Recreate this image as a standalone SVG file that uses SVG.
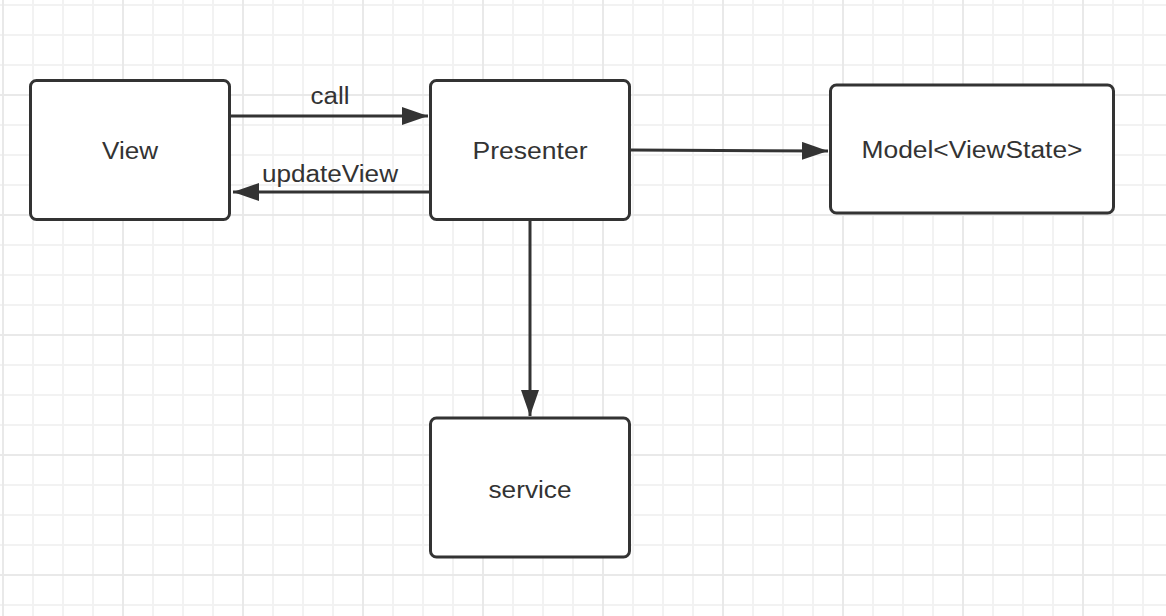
<svg xmlns="http://www.w3.org/2000/svg" width="1166" height="616" viewBox="0 0 1166 616">
  <style>
    .node rect { fill: #ffffff; stroke: #333333; stroke-width: 3; }
    .node text, .label { font-family: "Liberation Sans", Arial, sans-serif; font-size: 23px; fill: #333333; text-anchor: middle; }
    .edge { stroke: #333333; stroke-width: 3; fill: none; }
  </style>
  <defs>
    <pattern id="minor" x="3" y="5" width="30" height="30" patternUnits="userSpaceOnUse">
      <path d="M0 0V30M30 0V30M0 0H30M0 30H30" stroke="#f2f2f2" stroke-width="2" fill="none"/>
    </pattern>
    <pattern id="major" x="3" y="-25" width="120" height="120" patternUnits="userSpaceOnUse">
      <path d="M0 0V120M120 0V120M0 0H120M0 120H120" stroke="#e9e9e9" stroke-width="2" fill="none"/>
    </pattern>
    <marker id="arrow" viewBox="0 0 26 18" refX="26" refY="9" markerWidth="26" markerHeight="18" markerUnits="userSpaceOnUse" orient="auto">
      <path d="M0 0L26 9L0 18Z" fill="#333333"/>
    </marker>
  </defs>
  <rect width="1166" height="616" fill="#ffffff"/>
  <rect width="1166" height="616" fill="url(#minor)"/>
  <rect width="1166" height="616" fill="url(#major)"/>

  <g id="connectors">
    <path class="edge" d="M230 116H428" marker-end="url(#arrow)"/>
    <path class="edge" d="M430 192H233" marker-end="url(#arrow)"/>
    <path class="edge" d="M630 150L828 151" marker-end="url(#arrow)"/>
    <path class="edge" d="M530 220V416" marker-end="url(#arrow)"/>
    <text class="label" x="330" y="104" textLength="39" lengthAdjust="spacingAndGlyphs">call</text>
    <text class="label" x="330" y="182" textLength="136" lengthAdjust="spacingAndGlyphs">updateView</text>
  </g>

  <g id="view" class="node">
    <rect x="30.5" y="80.5" width="199" height="139" rx="6"/>
    <text x="130" y="159" textLength="56" lengthAdjust="spacingAndGlyphs">View</text>
  </g>
  <g id="presenter" class="node">
    <rect x="430.5" y="80.5" width="199" height="139" rx="6"/>
    <text x="530" y="159" textLength="115" lengthAdjust="spacingAndGlyphs">Presenter</text>
  </g>
  <g id="model" class="node">
    <rect x="830.5" y="85" width="283" height="128" rx="6"/>
    <text x="972" y="158" textLength="221" lengthAdjust="spacingAndGlyphs">Model&lt;ViewState&gt;</text>
  </g>
  <g id="service" class="node">
    <rect x="430.5" y="418" width="199" height="139" rx="6"/>
    <text x="530" y="498" textLength="83" lengthAdjust="spacingAndGlyphs">service</text>
  </g>
</svg>
